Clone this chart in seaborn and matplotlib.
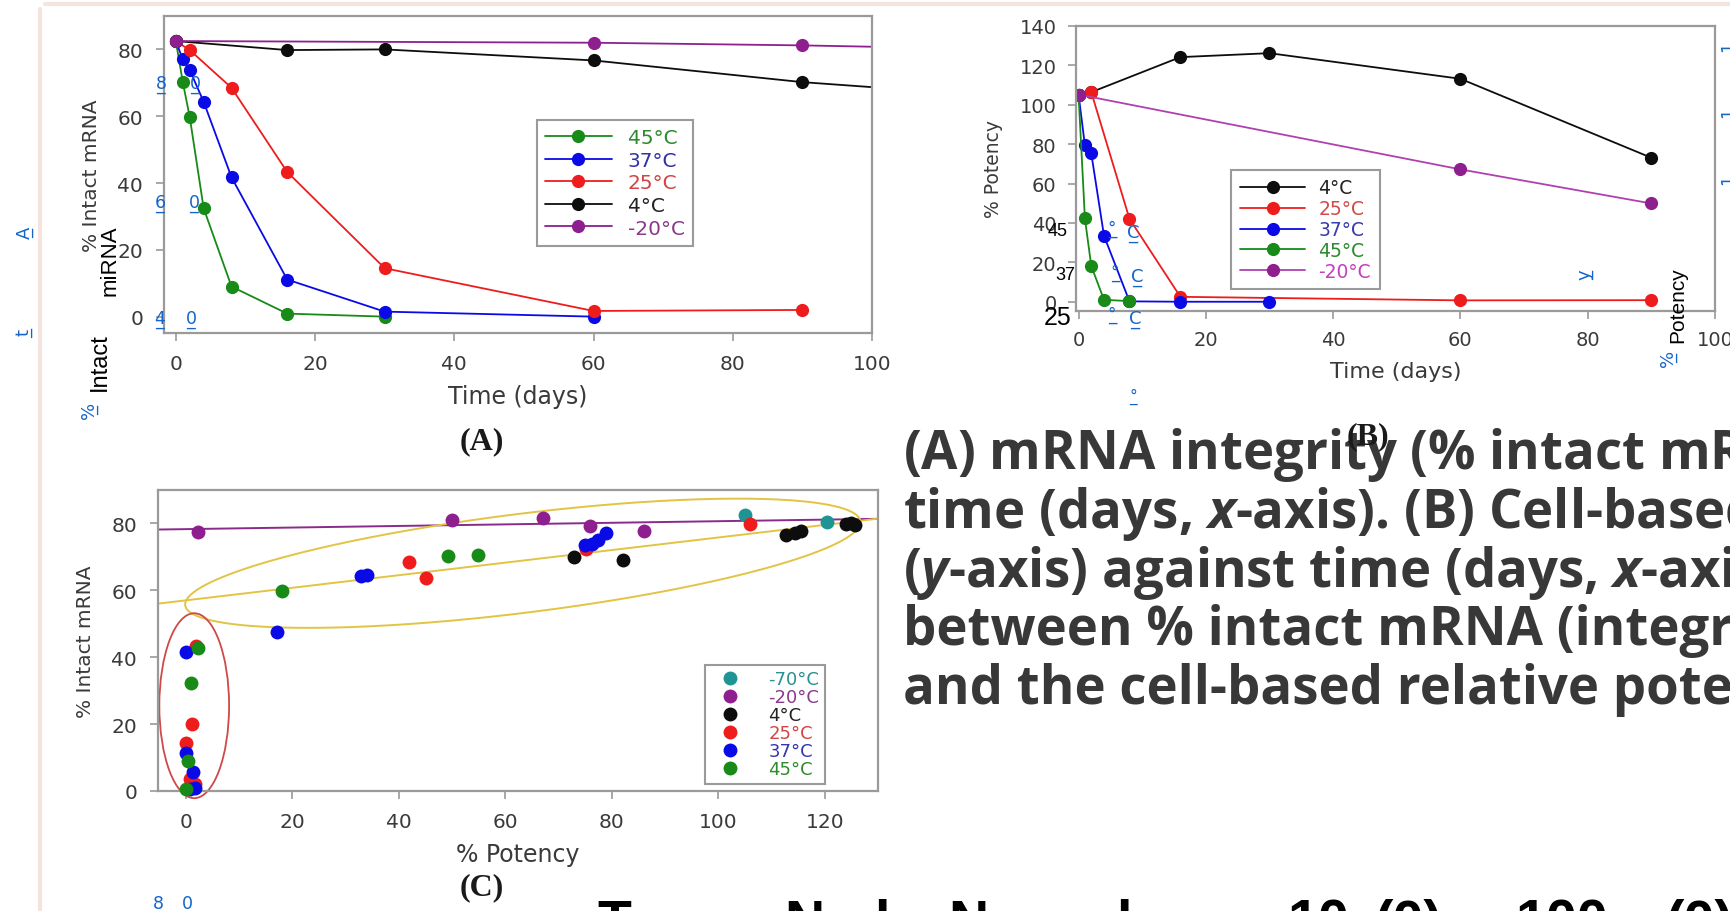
import numpy as np
import pandas as pd
import matplotlib
matplotlib.use("Agg")
import matplotlib.pyplot as plt
import seaborn as sns
from matplotlib.lines import Line2D
from matplotlib.patches import Ellipse

# ---------------- data ----------------
# Panel A: % intact mRNA vs time (days)
A_labels = ["45°C", "37°C", "25°C", "4°C", "-20°C"]
A_days_45 = [0, 1, 2, 4, 8, 16, 30]
A_int_45 = [82.5, 70.2, 59.7, 32.4, 9.0, 0.9, 0.0]
A_days_37 = [0, 1, 2, 4, 8, 16, 30, 60]
A_int_37 = [82.5, 77.0, 73.8, 64.3, 41.7, 11.1, 1.5, 0.0]
A_days_25 = [0, 2, 8, 16, 30, 60, 90]
A_int_25 = [82.5, 79.8, 68.5, 43.3, 14.5, 1.7, 2.0]
A_days_4 = [0, 16, 30, 60, 90, 180]
A_int_4 = [82.5, 79.8, 80.0, 76.7, 70.2, 56.7]
A_days_m20 = [0, 60, 90, 180]
A_int_m20 = [82.5, 82.0, 81.2, 77.6]

# Panel B: % potency vs time (days)
B_labels = ["4°C", "25°C", "37°C", "45°C", "-20°C"]
B_days_4 = [0, 2, 16, 30, 60, 90]
B_pot_4 = [105.2, 106.4, 124.2, 126.2, 113.2, 73.1]
B_days_25 = [0, 2, 8, 16, 60, 90]
B_pot_25 = [105.2, 106.4, 42.1, 2.5, 0.7, 0.8]
B_days_37 = [0, 1, 2, 4, 8, 16, 30]
B_pot_37 = [105.2, 79.4, 75.3, 33.5, 0.2, 0.0, 0.0]
B_days_45 = [0, 1, 2, 4, 8]
B_pot_45 = [105.2, 42.3, 18.1, 1.0, 0.3]
B_days_m20 = [0, 60, 90]
B_pot_m20 = [105.2, 67.2, 49.9]

# Panel C: % intact mRNA vs % potency
C_labels = ["-70°C", "-20°C", "4°C", "25°C", "37°C", "45°C"]
C_pot_m70 = [105.0, 120.4]
C_int_m70 = [82.4, 80.4]
C_pot_m20 = [2.4, 50.0, 67.1, 75.9, 86.1]
C_int_m20 = [77.4, 81.0, 81.7, 79.3, 77.6]
C_pot_4 = [73.0, 82.2, 112.8, 114.4, 115.5, 124.0, 125.7, 125.0]
C_int_4 = [69.9, 69.2, 76.6, 77.2, 77.6, 79.7, 79.6, 80.0]
C_pot_25 = [105.9, 42.0, 45.2, 75.2, 1.2, 0.0, 2.0, 0.8, 1.8]
C_int_25 = [79.7, 68.4, 63.7, 72.3, 20.1, 14.4, 43.5, 3.5, 2.0]
C_pot_37 = [33.0, 34.0, 17.2, 75.0, 76.3, 77.4, 79.0, 0.0, 0.0, 1.4, 1.8, 0.9]
C_int_37 = [64.2, 64.7, 47.5, 73.5, 74.0, 75.0, 77.0, 41.6, 11.4, 5.7, 1.0, 0.5]
C_pot_45 = [18.1, 49.2, 54.8, 2.3, 1.0, 0.4, 0.0]
C_int_45 = [59.7, 70.2, 70.5, 42.9, 32.2, 8.9, 0.5]

# fitted lines in panel C (intercept, slope)
C_fit_m20 = [78.3, 0.0237]
C_fit_all = [57.0, 0.188]
# highlight ellipses in panel C (data units)
yellow_center = [63.3, 68.1]
yellow_u = [63.4, 12.3]
yellow_v = [0.0, 14.9]
red_center = [1.6, 25.5]
red_size = [13.1, 55.3]

A_ticks_x = [0, 20, 40, 60, 80, 100]
A_ticks_y = [0, 20, 40, 60, 80]
B_ticks_x = [0, 20, 40, 60, 80, 100]
B_ticks_y = [0, 20, 40, 60, 80, 100, 120, 140]
C_ticks_x = [0, 20, 40, 60, 80, 100, 120]
C_ticks_y = [0, 20, 40, 60, 80]

caption_lines = [
    "(A) mRNA integrity (% intact mRNA, $y$-axis) against",
    "time (days, $x$-axis). (B) Cell-based relative potency",
    "($y$-axis) against time (days, $x$-axis). (C) Correlation",
    "between % intact mRNA (integrity) (y-axis)",
    "and the cell-based relative potency (x-axis)",
]
# fragments of a line cut off at the bottom edge
bottom_words = ["T", "N", "l", "N", "l", "10", "(0)", "100", "(0)"]

# ---------------- style ----------------
sns.set_theme(style="white")
plt.rcParams["font.family"] = ["DejaVu Sans"]
plt.rcParams["mathtext.fontset"] = "custom"
plt.rcParams["mathtext.it"] = "Open Sans:italic:bold"
plt.rcParams["mathtext.rm"] = "Open Sans:bold"

GREEN = "#178a17"
BLUE = "#0a0ae6"
RED = "#ee1c1c"
BLACK = "#0d0d0d"
PURPLE = "#8e1f8e"
MAGENTA = "#b040b0"
TEAL = "#1f9494"
SPINE = "#9a9a9a"
TICKTXT = "#3a3a3a"

W, H = 1731, 912
fig = plt.figure(figsize=(W / 100, H / 100), dpi=100)
fig.patch.set_facecolor("white")


def px_axes(l, t, r, b):
    return fig.add_axes([l / W, 1 - b / H, (r - l) / W, (b - t) / H])


def style_axes(ax, fs, padx, pady):
    for s in ax.spines.values():
        s.set_visible(True)
        s.set_color(SPINE)
        s.set_linewidth(1.6)
    ax.tick_params(axis="both", bottom=True, left=True, direction="out",
                   length=6, width=1.2, color=SPINE, labelcolor=TICKTXT,
                   labelsize=fs)
    ax.tick_params(axis="x", pad=padx)
    ax.tick_params(axis="y", pad=pady)
    ax.set_facecolor("white")


def colored_legend(ax, handles, labels, tcolors, **kw):
    leg = ax.legend(handles, labels, frameon=True, fancybox=False,
                    edgecolor=SPINE, framealpha=1, borderaxespad=0, **kw)
    leg.get_frame().set_linewidth(1.5)
    for t, c in zip(leg.get_texts(), tcolors):
        t.set_color(c)
    return leg


# ---------------- Panel A ----------------
axA = px_axes(164, 17, 872, 334)
A_series = [(A_days_45, A_int_45, GREEN), (A_days_37, A_int_37, BLUE),
            (A_days_25, A_int_25, RED), (A_days_4, A_int_4, BLACK),
            (A_days_m20, A_int_m20, PURPLE)]
for d, v, c in A_series:
    sns.lineplot(x=d, y=v, ax=axA, color=c, marker="o", markersize=9.5,
                 markeredgewidth=0, linewidth=1.3, sort=False, legend=False,
                 errorbar=None)
axA.set_xlim(-1.7, 100)
axA.set_ylim(-4.9, 90)
axA.set_xticks(A_ticks_x)
axA.set_yticks(A_ticks_y)
style_axes(axA, 14.5, 9, 9)
axA.set_xlabel("Time (days)", fontsize=17, color=TICKTXT, labelpad=8)
axA.set_ylabel("% Intact mRNA", fontsize=14.5, color=TICKTXT, labelpad=12)
hA = [Line2D([0], [0], color=c, marker="o", markersize=9.5, lw=1.3,
             markeredgewidth=0) for _, _, c in A_series]
colored_legend(axA, hA, A_labels,
               ["#2d8a2d", "#3030a8", "#d04545", "#222222", "#8a3a8a"],
               loc="upper left", bbox_to_anchor=(0.527, 0.672), fontsize=14.5,
               handlelength=3.3, handletextpad=0.8, labelspacing=0.18,
               borderpad=0.4)

# ---------------- Panel B ----------------
axB = px_axes(1076, 27, 1715, 312)
B_series = [(B_days_4, B_pot_4, BLACK, BLACK), (B_days_25, B_pot_25, RED, RED),
            (B_days_37, B_pot_37, BLUE, BLUE), (B_days_45, B_pot_45, GREEN, GREEN),
            (B_days_m20, B_pot_m20, MAGENTA, PURPLE)]
for d, v, lc, mc in B_series:
    sns.lineplot(x=d, y=v, ax=axB, color=lc, marker="o", markersize=9.5,
                 markerfacecolor=mc, markeredgewidth=0, linewidth=1.3,
                 sort=False, legend=False, errorbar=None)
axB.set_xlim(-0.4, 100)
axB.set_ylim(-4.7, 140)
axB.set_xticks(B_ticks_x)
axB.set_yticks(B_ticks_y)
style_axes(axB, 14, 8, 8)
axB.set_xlabel("Time (days)", fontsize=16, color=TICKTXT, labelpad=8)
axB.set_ylabel("% Potency", fontsize=13.5, color=TICKTXT, labelpad=12)
hB = [Line2D([0], [0], color=lc, marker="o", markersize=9.5, lw=1.3,
             markerfacecolor=mc, markeredgewidth=0) for _, _, lc, mc in B_series]
colored_legend(axB, hB, B_labels,
               ["#222222", "#d24a4a", "#3a3aa8", "#2d8a2d", "#c040c0"],
               loc="upper left", bbox_to_anchor=(0.243, 0.495), fontsize=13.5,
               handlelength=3.5, handletextpad=0.7, labelspacing=0.1,
               borderpad=0.45)

# ---------------- Panel C ----------------
axC = px_axes(158, 491, 878, 792)
axC.set_xlim(-5.2, 130)
axC.set_ylim(0, 90)
for b, m, c in [(C_fit_m20[0], C_fit_m20[1], "#8a2a8a"),
                (C_fit_all[0], C_fit_all[1], "#e2c445")]:
    axC.axline((0, b), slope=m, color=c, lw=1.4, zorder=1)
tt = np.linspace(0, 2 * np.pi, 300)
axC.plot(yellow_center[0] + yellow_u[0] * np.cos(tt) + yellow_v[0] * np.sin(tt),
         yellow_center[1] + yellow_u[1] * np.cos(tt) + yellow_v[1] * np.sin(tt),
         color="#e2c445", lw=1.4, zorder=1)
axC.add_patch(Ellipse(red_center, red_size[0], red_size[1], fill=False,
                      edgecolor="#d04848", lw=1.3, clip_on=False, zorder=1))
C_series = [(C_pot_m70, C_int_m70, TEAL), (C_pot_m20, C_int_m20, PURPLE),
            (C_pot_4, C_int_4, BLACK), (C_pot_25, C_int_25, RED),
            (C_pot_37, C_int_37, BLUE), (C_pot_45, C_int_45, GREEN)]
for x, y, c in C_series:
    sns.scatterplot(x=x, y=y, ax=axC, color=c, s=100, linewidth=0,
                    legend=False, clip_on=False, zorder=3)
axC.set_xticks(C_ticks_x)
axC.set_yticks(C_ticks_y)
style_axes(axC, 14.5, 9, 9)
axC.set_xlabel("% Potency", fontsize=17, color=TICKTXT, labelpad=8)
axC.set_ylabel("% Intact mRNA", fontsize=14.5, color=TICKTXT, labelpad=12)
hC = [Line2D([0], [0], color=c, marker="o", markersize=10, lw=0,
             markeredgewidth=0) for _, _, c in C_series]
colored_legend(axC, hC, C_labels,
               ["#2a9090", "#8a3a8a", "#222222", "#d04545", "#3535b0", "#2d8a2d"],
               loc="upper left", bbox_to_anchor=(0.760, 0.419), fontsize=13,
               handlelength=2.2, handletextpad=1.0, labelspacing=0.0,
               borderpad=0.3)

# ---------------- panel letters ----------------
def ftext(x, y, s, **kw):
    return fig.text(x / W, 1 - y / H, s, **kw)

for s, x, y in [("(A)", 482, 442), ("(B)", 1368, 437), ("(C)", 482, 888)]:
    ftext(x, y, s, fontsize=23, family="Liberation Serif", fontweight="bold",
          color="#1a1a1a", ha="center", va="center", zorder=7)

# ---------------- caption ----------------
for i, line in enumerate(caption_lines):
    ftext(903, 469 + 58.8 * i, line, fontsize=38,
          family=["Open Sans", "DejaVu Sans"], fontweight="bold",
          color="#383838", va="baseline", ha="left", zorder=5)
for w, x in zip(bottom_words, [597, 784, 874, 948, 1116, 1288, 1374, 1516, 1665]):
    ftext(x, 899, w, fontsize=40, family="Liberation Sans", fontweight="bold",
          color="black", va="top", ha="left")

# ---------------- stray text-layer fragments ----------------
LINK = "#1565c8"


def ul(x, y, s, fs, rot=0):
    """underlined blue fragment centred near (x, y) in pixels"""
    off = 0.36 * fs * 100 / 72
    if rot == 0:
        ftext(x, y + off, s, fontsize=fs, color=LINK, ha="center", va="baseline",
              zorder=6)
        ftext(x, y + off, "_", fontsize=fs, color=LINK, ha="center",
              va="baseline", zorder=6)
    else:
        ftext(x + off, y, s, fontsize=fs, color=LINK, ha="center", va="baseline",
              rotation=90, rotation_mode="anchor", zorder=6)
        ftext(x + off, y, "_", fontsize=fs, color=LINK, ha="center",
              va="baseline", rotation=90, rotation_mode="anchor", zorder=6)


for s, x, y in [("8", 161, 83), ("0", 195, 83), ("6", 160, 202), ("0", 194, 202),
                ("4", 160, 318), ("0", 191, 318), ("8", 158, 903), ("0", 187, 903)]:
    ul(x, y, s, 12.5)
for s, x, y in [("A", 23, 233), ("t", 22, 333), ("%", 88, 410),
                ("%", 1667, 358), ("y", 1583, 275)]:
    ul(x, y, s, 13, rot=90)
for y in [47, 113, 180]:
    ul(1727, y, "1", 12, rot=90)
ftext(110, 261, "miRNA", fontsize=16, family="Liberation Sans", color="black",
      rotation=90, ha="center", va="center", zorder=6)
ftext(100, 362, "Intact", fontsize=17, family="Liberation Sans", color="black",
      rotation=90, ha="center", va="center", zorder=6)
ftext(1678, 305, "Potency", fontsize=15, family="Liberation Sans", color="black",
      rotation=90, ha="center", va="center", zorder=6)
for num, x, y, fs in [("45", 1058, 232, 13), ("37", 1065, 276, 13),
                      ("25", 1058, 318, 18)]:
    ftext(x, y, num, fontsize=fs, family="Liberation Sans", color="black",
          ha="center", va="center", zorder=6)
for xd, xc, y in [(1112, 1133, 232), (1115, 1137, 276), (1112, 1135, 318)]:
    ul(xd, y - 4, "°", 12)
    ul(xc, y, "C", 13)
ul(1133, 395, "°", 11)

# faint page-border lines
fig.add_artist(Line2D([45 / W, 1], [1 - 5 / H, 1 - 5 / H], color="#f5e4de",
                      lw=3, transform=fig.transFigure))
fig.add_artist(Line2D([40 / W, 40 / W], [0, 1 - 10 / H], color="#f5e4de",
                      lw=3, transform=fig.transFigure))

fig.savefig("out.png", dpi=100, facecolor="white")
